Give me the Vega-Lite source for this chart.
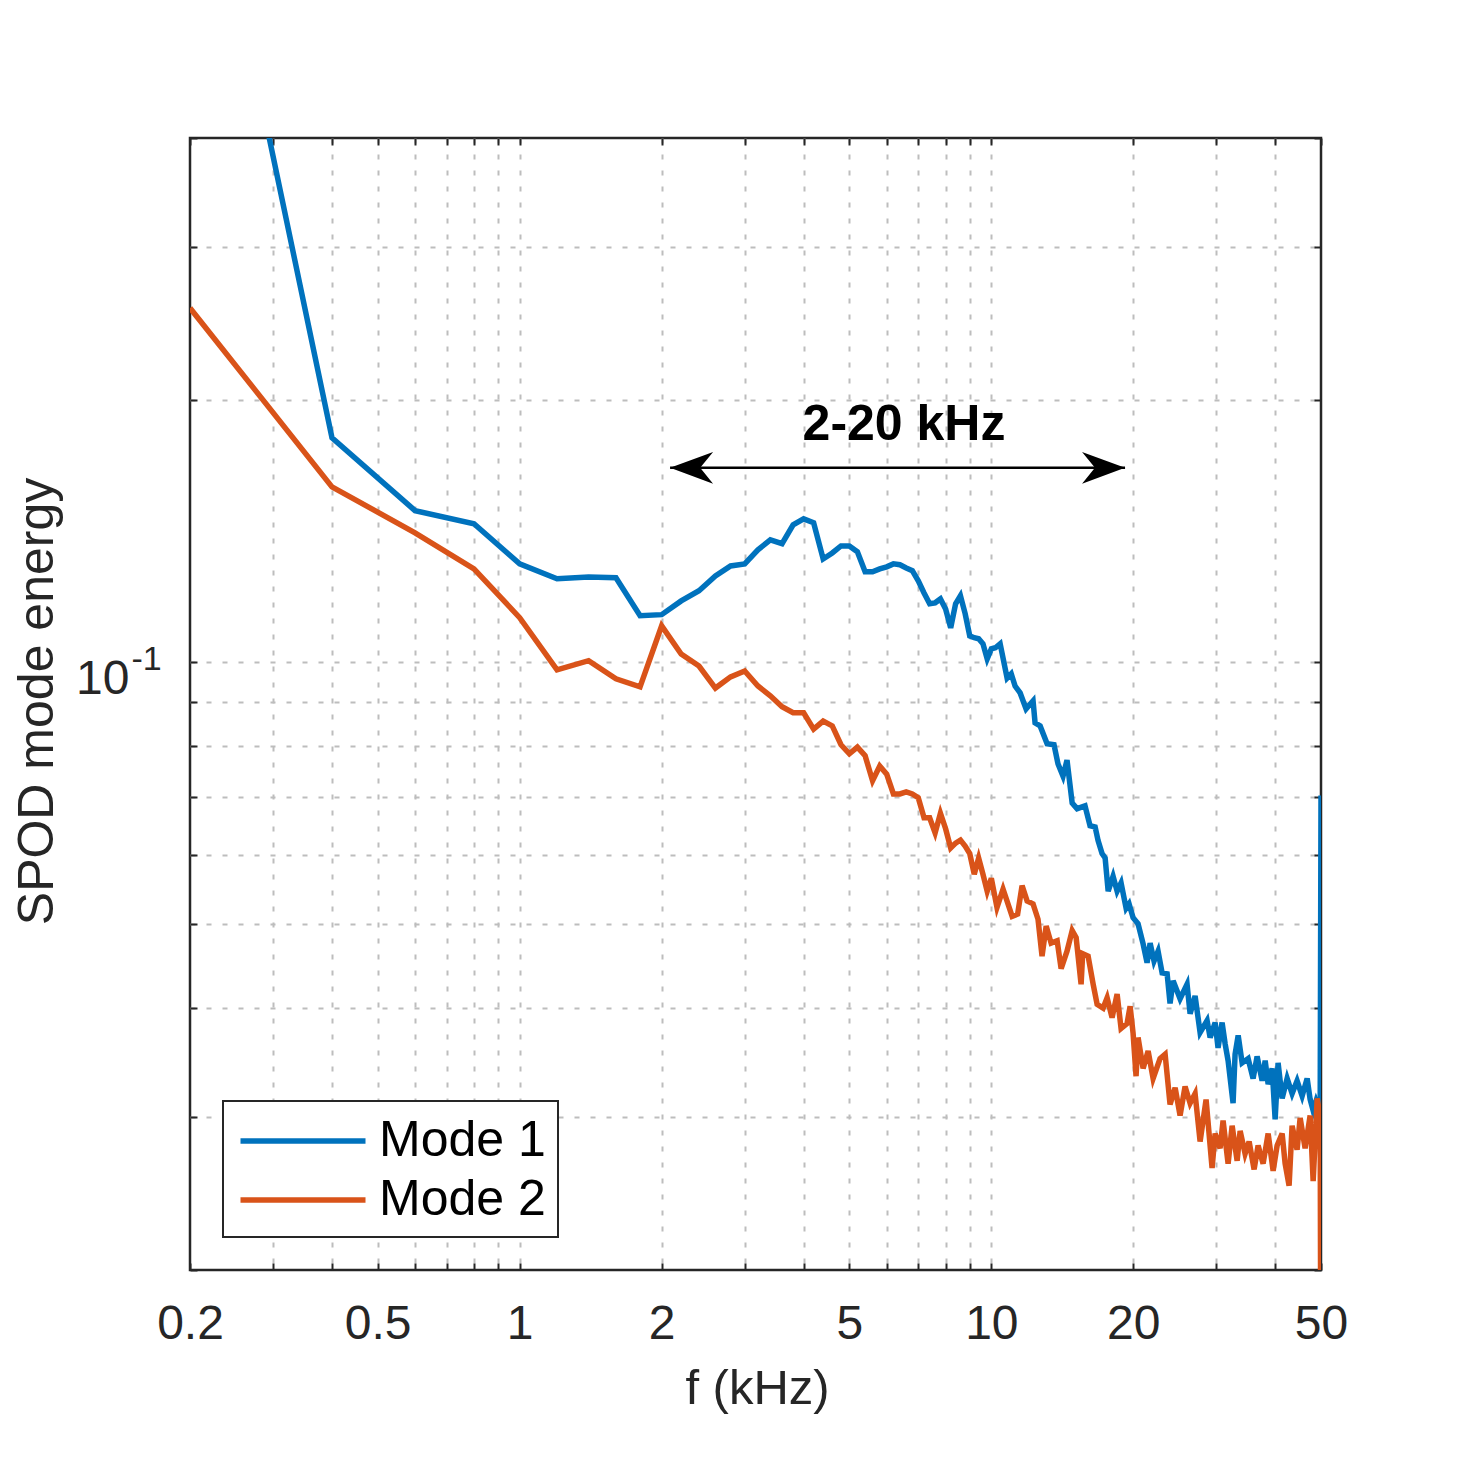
{
  "$schema": "https://vega.github.io/schema/vega-lite/v6.json",
  "autosize": {"type": "none"},
  "padding": {"left": 190, "top": 138, "right": 139, "bottom": 190},
  "width": 1131,
  "height": 1132,
  "background": "white",
  "config": {
    "view": {"stroke": "#262626", "strokeWidth": 2.5},
    "font": "Liberation Sans",
    "axis": {"labelFont": "Liberation Sans", "titleFont": "Liberation Sans", "tickColor": "#262626", "tickWidth": 2, "labelColor": "#262626", "titleColor": "#262626", "titleFontWeight": "normal"},
    "legend": {"strokeWidth": 2},
    "text": {"font": "Liberation Sans"}
  },
  "datasets": {
    "spectra": [
      {"f": 0.2, "v": 1.09, "mode": "Mode 1"},
      {"f": 0.4, "v": 0.1809, "mode": "Mode 1"},
      {"f": 0.6, "v": 0.1492, "mode": "Mode 1"},
      {"f": 0.8, "v": 0.1441, "mode": "Mode 1"},
      {"f": 1.0, "v": 0.1296, "mode": "Mode 1"},
      {"f": 1.2, "v": 0.1246, "mode": "Mode 1"},
      {"f": 1.4, "v": 0.1252, "mode": "Mode 1"},
      {"f": 1.6, "v": 0.1249, "mode": "Mode 1"},
      {"f": 1.8, "v": 0.1130, "mode": "Mode 1"},
      {"f": 2.0, "v": 0.1133, "mode": "Mode 1"},
      {"f": 2.2, "v": 0.1175, "mode": "Mode 1"},
      {"f": 2.4, "v": 0.1207, "mode": "Mode 1"},
      {"f": 2.6, "v": 0.1255, "mode": "Mode 1"},
      {"f": 2.8, "v": 0.1289, "mode": "Mode 1"},
      {"f": 3.0, "v": 0.1296, "mode": "Mode 1"},
      {"f": 3.2, "v": 0.1345, "mode": "Mode 1"},
      {"f": 3.4, "v": 0.1381, "mode": "Mode 1"},
      {"f": 3.6, "v": 0.1367, "mode": "Mode 1"},
      {"f": 3.8, "v": 0.1437, "mode": "Mode 1"},
      {"f": 4.0, "v": 0.1460, "mode": "Mode 1"},
      {"f": 4.2, "v": 0.1445, "mode": "Mode 1"},
      {"f": 4.4, "v": 0.1313, "mode": "Mode 1"},
      {"f": 4.6, "v": 0.1334, "mode": "Mode 1"},
      {"f": 4.8, "v": 0.1359, "mode": "Mode 1"},
      {"f": 5.0, "v": 0.1359, "mode": "Mode 1"},
      {"f": 5.2, "v": 0.1338, "mode": "Mode 1"},
      {"f": 5.4, "v": 0.1269, "mode": "Mode 1"},
      {"f": 5.6, "v": 0.1269, "mode": "Mode 1"},
      {"f": 5.8, "v": 0.1279, "mode": "Mode 1"},
      {"f": 6.0, "v": 0.1286, "mode": "Mode 1"},
      {"f": 6.2, "v": 0.1296, "mode": "Mode 1"},
      {"f": 6.4, "v": 0.1293, "mode": "Mode 1"},
      {"f": 6.6, "v": 0.1282, "mode": "Mode 1"},
      {"f": 6.8, "v": 0.1273, "mode": "Mode 1"},
      {"f": 7.0, "v": 0.1239, "mode": "Mode 1"},
      {"f": 7.2, "v": 0.1200, "mode": "Mode 1"},
      {"f": 7.4, "v": 0.1166, "mode": "Mode 1"},
      {"f": 7.6, "v": 0.1169, "mode": "Mode 1"},
      {"f": 7.8, "v": 0.1181, "mode": "Mode 1"},
      {"f": 8.0, "v": 0.1150, "mode": "Mode 1"},
      {"f": 8.2, "v": 0.1094, "mode": "Mode 1"},
      {"f": 8.4, "v": 0.1166, "mode": "Mode 1"},
      {"f": 8.6, "v": 0.1191, "mode": "Mode 1"},
      {"f": 8.8, "v": 0.1136, "mode": "Mode 1"},
      {"f": 9.0, "v": 0.1071, "mode": "Mode 1"},
      {"f": 9.2, "v": 0.1066, "mode": "Mode 1"},
      {"f": 9.4, "v": 0.1063, "mode": "Mode 1"},
      {"f": 9.6, "v": 0.1049, "mode": "Mode 1"},
      {"f": 9.8, "v": 0.1008, "mode": "Mode 1"},
      {"f": 10.0, "v": 0.1035, "mode": "Mode 1"},
      {"f": 10.2, "v": 0.1038, "mode": "Mode 1"},
      {"f": 10.44, "v": 0.1049, "mode": "Mode 1"},
      {"f": 10.8, "v": 0.0958, "mode": "Mode 1"},
      {"f": 11.02, "v": 0.0969, "mode": "Mode 1"},
      {"f": 11.23, "v": 0.0938, "mode": "Mode 1"},
      {"f": 11.51, "v": 0.0921, "mode": "Mode 1"},
      {"f": 11.85, "v": 0.0883, "mode": "Mode 1"},
      {"f": 12.26, "v": 0.0902, "mode": "Mode 1"},
      {"f": 12.38, "v": 0.0851, "mode": "Mode 1"},
      {"f": 12.69, "v": 0.0844, "mode": "Mode 1"},
      {"f": 13.13, "v": 0.0805, "mode": "Mode 1"},
      {"f": 13.58, "v": 0.0803, "mode": "Mode 1"},
      {"f": 13.85, "v": 0.0763, "mode": "Mode 1"},
      {"f": 14.19, "v": 0.0739, "mode": "Mode 1"},
      {"f": 14.47, "v": 0.0771, "mode": "Mode 1"},
      {"f": 14.84, "v": 0.0688, "mode": "Mode 1"},
      {"f": 15.2, "v": 0.0678, "mode": "Mode 1"},
      {"f": 15.8, "v": 0.0683, "mode": "Mode 1"},
      {"f": 16.19, "v": 0.0648, "mode": "Mode 1"},
      {"f": 16.6, "v": 0.0646, "mode": "Mode 1"},
      {"f": 16.84, "v": 0.0623, "mode": "Mode 1"},
      {"f": 17.17, "v": 0.0602, "mode": "Mode 1"},
      {"f": 17.43, "v": 0.0595, "mode": "Mode 1"},
      {"f": 17.69, "v": 0.0545, "mode": "Mode 1"},
      {"f": 18.12, "v": 0.0567, "mode": "Mode 1"},
      {"f": 18.48, "v": 0.0545, "mode": "Mode 1"},
      {"f": 18.84, "v": 0.0557, "mode": "Mode 1"},
      {"f": 19.31, "v": 0.0521, "mode": "Mode 1"},
      {"f": 19.59, "v": 0.0527, "mode": "Mode 1"},
      {"f": 19.98, "v": 0.0508, "mode": "Mode 1"},
      {"f": 20.47, "v": 0.0500, "mode": "Mode 1"},
      {"f": 20.98, "v": 0.0474, "mode": "Mode 1"},
      {"f": 21.39, "v": 0.0451, "mode": "Mode 1"},
      {"f": 21.71, "v": 0.0475, "mode": "Mode 1"},
      {"f": 22.13, "v": 0.0453, "mode": "Mode 1"},
      {"f": 22.57, "v": 0.0465, "mode": "Mode 1"},
      {"f": 23.02, "v": 0.0439, "mode": "Mode 1"},
      {"f": 23.59, "v": 0.0438, "mode": "Mode 1"},
      {"f": 23.93, "v": 0.0405, "mode": "Mode 1"},
      {"f": 24.29, "v": 0.0430, "mode": "Mode 1"},
      {"f": 25.13, "v": 0.0410, "mode": "Mode 1"},
      {"f": 26.0, "v": 0.0426, "mode": "Mode 1"},
      {"f": 26.39, "v": 0.0394, "mode": "Mode 1"},
      {"f": 27.04, "v": 0.0413, "mode": "Mode 1"},
      {"f": 27.71, "v": 0.0375, "mode": "Mode 1"},
      {"f": 28.67, "v": 0.0387, "mode": "Mode 1"},
      {"f": 29.1, "v": 0.0370, "mode": "Mode 1"},
      {"f": 29.82, "v": 0.0385, "mode": "Mode 1"},
      {"f": 30.25, "v": 0.0360, "mode": "Mode 1"},
      {"f": 30.85, "v": 0.0385, "mode": "Mode 1"},
      {"f": 31.31, "v": 0.0364, "mode": "Mode 1"},
      {"f": 31.77, "v": 0.0348, "mode": "Mode 1"},
      {"f": 32.55, "v": 0.0311, "mode": "Mode 1"},
      {"f": 32.87, "v": 0.0354, "mode": "Mode 1"},
      {"f": 33.37, "v": 0.0372, "mode": "Mode 1"},
      {"f": 34.02, "v": 0.0346, "mode": "Mode 1"},
      {"f": 35.03, "v": 0.0350, "mode": "Mode 1"},
      {"f": 35.89, "v": 0.0332, "mode": "Mode 1"},
      {"f": 36.6, "v": 0.0352, "mode": "Mode 1"},
      {"f": 37.51, "v": 0.0330, "mode": "Mode 1"},
      {"f": 38.07, "v": 0.0348, "mode": "Mode 1"},
      {"f": 38.63, "v": 0.0327, "mode": "Mode 1"},
      {"f": 39.39, "v": 0.0341, "mode": "Mode 1"},
      {"f": 39.97, "v": 0.0298, "mode": "Mode 1"},
      {"f": 40.55, "v": 0.0346, "mode": "Mode 1"},
      {"f": 41.36, "v": 0.0315, "mode": "Mode 1"},
      {"f": 42.38, "v": 0.0332, "mode": "Mode 1"},
      {"f": 43.42, "v": 0.0319, "mode": "Mode 1"},
      {"f": 44.49, "v": 0.0330, "mode": "Mode 1"},
      {"f": 45.6, "v": 0.0317, "mode": "Mode 1"},
      {"f": 46.73, "v": 0.0332, "mode": "Mode 1"},
      {"f": 47.42, "v": 0.0314, "mode": "Mode 1"},
      {"f": 48.12, "v": 0.0305, "mode": "Mode 1"},
      {"f": 48.83, "v": 0.0313, "mode": "Mode 1"},
      {"f": 49.8, "v": 0.0305, "mode": "Mode 1"},
      {"f": 50.0, "v": 0.0702, "mode": "Mode 1"},
      {"f": 0.2, "v": 0.2551, "mode": "Mode 2"},
      {"f": 0.4, "v": 0.1589, "mode": "Mode 2"},
      {"f": 0.6, "v": 0.1407, "mode": "Mode 2"},
      {"f": 0.8, "v": 0.1279, "mode": "Mode 2"},
      {"f": 1.0, "v": 0.1124, "mode": "Mode 2"},
      {"f": 1.2, "v": 0.0979, "mode": "Mode 2"},
      {"f": 1.4, "v": 0.1003, "mode": "Mode 2"},
      {"f": 1.6, "v": 0.0956, "mode": "Mode 2"},
      {"f": 1.8, "v": 0.0936, "mode": "Mode 2"},
      {"f": 2.0, "v": 0.1100, "mode": "Mode 2"},
      {"f": 2.2, "v": 0.1021, "mode": "Mode 2"},
      {"f": 2.4, "v": 0.0989, "mode": "Mode 2"},
      {"f": 2.6, "v": 0.0933, "mode": "Mode 2"},
      {"f": 2.8, "v": 0.0961, "mode": "Mode 2"},
      {"f": 3.0, "v": 0.0976, "mode": "Mode 2"},
      {"f": 3.2, "v": 0.0938, "mode": "Mode 2"},
      {"f": 3.4, "v": 0.0914, "mode": "Mode 2"},
      {"f": 3.6, "v": 0.0888, "mode": "Mode 2"},
      {"f": 3.8, "v": 0.0874, "mode": "Mode 2"},
      {"f": 4.0, "v": 0.0874, "mode": "Mode 2"},
      {"f": 4.2, "v": 0.0837, "mode": "Mode 2"},
      {"f": 4.4, "v": 0.0855, "mode": "Mode 2"},
      {"f": 4.6, "v": 0.0844, "mode": "Mode 2"},
      {"f": 4.8, "v": 0.0803, "mode": "Mode 2"},
      {"f": 5.0, "v": 0.0784, "mode": "Mode 2"},
      {"f": 5.2, "v": 0.0798, "mode": "Mode 2"},
      {"f": 5.4, "v": 0.0780, "mode": "Mode 2"},
      {"f": 5.6, "v": 0.0730, "mode": "Mode 2"},
      {"f": 5.8, "v": 0.0759, "mode": "Mode 2"},
      {"f": 6.0, "v": 0.0743, "mode": "Mode 2"},
      {"f": 6.2, "v": 0.0705, "mode": "Mode 2"},
      {"f": 6.4, "v": 0.0705, "mode": "Mode 2"},
      {"f": 6.6, "v": 0.0709, "mode": "Mode 2"},
      {"f": 6.8, "v": 0.0705, "mode": "Mode 2"},
      {"f": 7.0, "v": 0.0698, "mode": "Mode 2"},
      {"f": 7.2, "v": 0.0662, "mode": "Mode 2"},
      {"f": 7.4, "v": 0.0662, "mode": "Mode 2"},
      {"f": 7.6, "v": 0.0636, "mode": "Mode 2"},
      {"f": 7.8, "v": 0.0670, "mode": "Mode 2"},
      {"f": 8.0, "v": 0.0643, "mode": "Mode 2"},
      {"f": 8.2, "v": 0.0611, "mode": "Mode 2"},
      {"f": 8.4, "v": 0.0619, "mode": "Mode 2"},
      {"f": 8.6, "v": 0.0624, "mode": "Mode 2"},
      {"f": 8.8, "v": 0.0614, "mode": "Mode 2"},
      {"f": 9.0, "v": 0.0602, "mode": "Mode 2"},
      {"f": 9.2, "v": 0.0570, "mode": "Mode 2"},
      {"f": 9.4, "v": 0.0595, "mode": "Mode 2"},
      {"f": 9.6, "v": 0.0570, "mode": "Mode 2"},
      {"f": 9.8, "v": 0.0545, "mode": "Mode 2"},
      {"f": 10.0, "v": 0.0564, "mode": "Mode 2"},
      {"f": 10.28, "v": 0.0522, "mode": "Mode 2"},
      {"f": 10.59, "v": 0.0548, "mode": "Mode 2"},
      {"f": 11.07, "v": 0.0510, "mode": "Mode 2"},
      {"f": 11.37, "v": 0.0513, "mode": "Mode 2"},
      {"f": 11.62, "v": 0.0553, "mode": "Mode 2"},
      {"f": 11.91, "v": 0.0531, "mode": "Mode 2"},
      {"f": 12.26, "v": 0.0527, "mode": "Mode 2"},
      {"f": 12.56, "v": 0.0506, "mode": "Mode 2"},
      {"f": 12.81, "v": 0.0459, "mode": "Mode 2"},
      {"f": 13.07, "v": 0.0497, "mode": "Mode 2"},
      {"f": 13.39, "v": 0.0475, "mode": "Mode 2"},
      {"f": 13.79, "v": 0.0478, "mode": "Mode 2"},
      {"f": 14.06, "v": 0.0444, "mode": "Mode 2"},
      {"f": 14.47, "v": 0.0465, "mode": "Mode 2"},
      {"f": 14.84, "v": 0.0491, "mode": "Mode 2"},
      {"f": 15.13, "v": 0.0482, "mode": "Mode 2"},
      {"f": 15.5, "v": 0.0426, "mode": "Mode 2"},
      {"f": 15.62, "v": 0.0462, "mode": "Mode 2"},
      {"f": 16.04, "v": 0.0459, "mode": "Mode 2"},
      {"f": 16.44, "v": 0.0426, "mode": "Mode 2"},
      {"f": 16.76, "v": 0.0404, "mode": "Mode 2"},
      {"f": 17.26, "v": 0.0400, "mode": "Mode 2"},
      {"f": 17.6, "v": 0.0411, "mode": "Mode 2"},
      {"f": 18.03, "v": 0.0390, "mode": "Mode 2"},
      {"f": 18.48, "v": 0.0415, "mode": "Mode 2"},
      {"f": 18.84, "v": 0.0379, "mode": "Mode 2"},
      {"f": 19.4, "v": 0.0384, "mode": "Mode 2"},
      {"f": 19.69, "v": 0.0402, "mode": "Mode 2"},
      {"f": 19.98, "v": 0.0374, "mode": "Mode 2"},
      {"f": 20.27, "v": 0.0334, "mode": "Mode 2"},
      {"f": 20.47, "v": 0.0370, "mode": "Mode 2"},
      {"f": 20.98, "v": 0.0341, "mode": "Mode 2"},
      {"f": 21.5, "v": 0.0357, "mode": "Mode 2"},
      {"f": 22.03, "v": 0.0332, "mode": "Mode 2"},
      {"f": 22.79, "v": 0.0350, "mode": "Mode 2"},
      {"f": 23.36, "v": 0.0354, "mode": "Mode 2"},
      {"f": 23.93, "v": 0.0310, "mode": "Mode 2"},
      {"f": 24.53, "v": 0.0324, "mode": "Mode 2"},
      {"f": 25.13, "v": 0.0301, "mode": "Mode 2"},
      {"f": 25.75, "v": 0.0325, "mode": "Mode 2"},
      {"f": 26.39, "v": 0.0311, "mode": "Mode 2"},
      {"f": 27.04, "v": 0.0319, "mode": "Mode 2"},
      {"f": 27.71, "v": 0.0281, "mode": "Mode 2"},
      {"f": 28.53, "v": 0.0314, "mode": "Mode 2"},
      {"f": 29.38, "v": 0.0262, "mode": "Mode 2"},
      {"f": 29.82, "v": 0.0287, "mode": "Mode 2"},
      {"f": 30.55, "v": 0.0276, "mode": "Mode 2"},
      {"f": 31.0, "v": 0.0297, "mode": "Mode 2"},
      {"f": 31.77, "v": 0.0265, "mode": "Mode 2"},
      {"f": 32.4, "v": 0.0293, "mode": "Mode 2"},
      {"f": 33.2, "v": 0.0267, "mode": "Mode 2"},
      {"f": 33.69, "v": 0.0289, "mode": "Mode 2"},
      {"f": 34.52, "v": 0.0272, "mode": "Mode 2"},
      {"f": 35.2, "v": 0.0281, "mode": "Mode 2"},
      {"f": 36.07, "v": 0.0261, "mode": "Mode 2"},
      {"f": 36.78, "v": 0.0278, "mode": "Mode 2"},
      {"f": 37.69, "v": 0.0265, "mode": "Mode 2"},
      {"f": 38.63, "v": 0.0287, "mode": "Mode 2"},
      {"f": 39.58, "v": 0.0260, "mode": "Mode 2"},
      {"f": 40.36, "v": 0.0278, "mode": "Mode 2"},
      {"f": 41.36, "v": 0.0287, "mode": "Mode 2"},
      {"f": 41.97, "v": 0.0265, "mode": "Mode 2"},
      {"f": 42.79, "v": 0.0250, "mode": "Mode 2"},
      {"f": 43.42, "v": 0.0293, "mode": "Mode 2"},
      {"f": 44.49, "v": 0.0275, "mode": "Mode 2"},
      {"f": 45.16, "v": 0.0299, "mode": "Mode 2"},
      {"f": 46.27, "v": 0.0276, "mode": "Mode 2"},
      {"f": 47.42, "v": 0.0301, "mode": "Mode 2"},
      {"f": 48.12, "v": 0.0253, "mode": "Mode 2"},
      {"f": 49.08, "v": 0.0315, "mode": "Mode 2"},
      {"f": 49.8, "v": 0.0300, "mode": "Mode 2"},
      {"f": 50.0, "v": 0.012, "mode": "Mode 2"}
    ],
    "label": [{"f": 6.53, "v": 0.1799, "t": "2-20 kHz"}],
    "arrow": [{"f1": 2.084, "f2": 19.21, "v": 0.1671}],
    "heads": [{"f": 2.084, "v": 0.1671, "dir": "left"}, {"f": 19.21, "v": 0.1671, "dir": "right"}]
  },
  "resolve": {"axis": {"x": "independent", "y": "independent"}},
  "layer": [
    {
      "data": {"name": "spectra"},
      "mark": {"type": "line", "strokeWidth": 5.5, "clip": true},
      "encoding": {
        "x": {
          "field": "f", "type": "quantitative",
          "scale": {"type": "log", "domain": [0.2, 50], "nice": false},
          "axis": {
            "orient": "bottom",
            "values": [0.2, 0.3, 0.4, 0.5, 0.6, 0.7, 0.8, 0.9, 1, 2, 3, 4, 5, 6, 7, 8, 9, 10, 20, 30, 40, 50],
            "labelExpr": "indexof([0.2,0.5,1,2,5,10,20,50], datum.value) >= 0 ? '' + datum.value : ''",
            "title": "f (kHz)",
            "grid": true, "gridColor": "#bdbdbd", "gridDash": [5, 11], "gridWidth": 2,
            "gridOpacity": {"condition": {"test": "datum.value <= 0.2 || datum.value >= 50", "value": 0}, "value": 1},
            "domain": false,
            "tickSize": -7,
            "labelFontSize": 48, "labelBaseline": "alphabetic", "labelPadding": 75,
            "labelFlush": false, "labelOverlap": false, "labelBound": false,
            "titleFontSize": 49, "titleBaseline": "alphabetic", "titleX": 567, "titleY": 133,
            "encode": {"ticks": {"update": {"y2": {"signal": "indexof([0.2,0.5,1,2,5,10,20,50], datum.value) >= 0 ? -12 : -7"}}}}
          }
        },
        "y": {
          "field": "v", "type": "quantitative",
          "scale": {"type": "log", "domain": [0.02, 0.4], "nice": false},
          "axis": {
            "orient": "left",
            "values": [0.02, 0.03, 0.04, 0.05, 0.06, 0.07, 0.08, 0.09, 0.1, 0.2, 0.3, 0.4],
            "labelExpr": "datum.value == 0.1 ? '10' : ''",
            "title": "SPOD mode energy",
            "grid": true, "gridColor": "#bdbdbd", "gridDash": [5, 11], "gridWidth": 2,
            "gridOpacity": {"condition": {"test": "datum.value <= 0.02 || datum.value >= 0.4", "value": 0}, "value": 1},
            "domain": false,
            "tickSize": -7,
            "labelFontSize": 48, "labelAlign": "right", "labelBaseline": "alphabetic",
            "labelOffset": 32, "labelPadding": 68, "labelOverlap": false, "labelBound": false, "labelFlush": false,
            "titleFontSize": 50, "titleBaseline": "alphabetic", "titleX": -138, "titleY": 563, "titleAngle": 270,
            "encode": {"ticks": {"update": {"x2": {"signal": "datum.value == 0.1 ? 12 : 7"}}}}
          }
        },
        "color": {
          "field": "mode", "type": "nominal",
          "scale": {"domain": ["Mode 1", "Mode 2"], "range": ["#0072BD", "#D95319"]},
          "legend": {
            "title": null, "orient": "bottom-left", "offset": 33,
            "symbolType": "M-0.9,0L4.1,0", "symbolSize": 2500, "symbolStrokeWidth": 5.5,
            "labelFontSize": 50, "labelFont": "Liberation Sans", "labelColor": "black",
            "labelOffset": 88, "labelLimit": 500, "rowPadding": 6, "padding": 12,
            "strokeColor": "#262626", "fillColor": "white"
          }
        }
      }
    },
    {
      "data": {"name": "label"},
      "mark": {"type": "text", "fontSize": 50, "fontWeight": "bold", "align": "center", "baseline": "alphabetic", "color": "black", "font": "Liberation Sans"},
      "encoding": {
        "x": {
          "field": "f", "type": "quantitative",
          "scale": {"type": "log", "domain": [0.2, 50], "nice": false},
          "axis": {
            "orient": "top",
            "values": [0.2, 0.3, 0.4, 0.5, 0.6, 0.7, 0.8, 0.9, 1, 2, 3, 4, 5, 6, 7, 8, 9, 10, 20, 30, 40, 50],
            "labels": false, "title": null, "grid": false, "domain": false, "tickSize": -7,
            "encode": {"ticks": {"update": {"y2": {"signal": "indexof([0.2,0.5,1,2,5,10,20,50], datum.value) >= 0 ? 12 : 7"}}}}
          }
        },
        "y": {
          "field": "v", "type": "quantitative",
          "scale": {"type": "log", "domain": [0.02, 0.4], "nice": false},
          "axis": {
            "orient": "right",
            "values": [0.02, 0.03, 0.04, 0.05, 0.06, 0.07, 0.08, 0.09, 0.1, 0.2, 0.3, 0.4],
            "labels": false, "title": null, "grid": false, "domain": false, "tickSize": -7,
            "encode": {"ticks": {"update": {"x2": {"signal": "datum.value == 0.1 ? -12 : -7"}}}}
          }
        },
        "text": {"field": "t", "type": "nominal"}
      }
    },
    {
      "data": {"name": "arrow"},
      "mark": {"type": "rule", "strokeWidth": 2.5, "color": "black"},
      "encoding": {
        "x": {"field": "f1", "type": "quantitative", "scale": {"type": "log", "domain": [0.2, 50], "nice": false}, "axis": null},
        "x2": {"field": "f2"},
        "y": {
          "field": "v", "type": "quantitative",
          "scale": {"type": "log", "domain": [0.02, 0.4], "nice": false},
          "axis": {
            "orient": "left", "values": [0.1], "labelExpr": "'-1'",
            "ticks": false, "tickSize": 0, "grid": false, "domain": false, "title": null,
            "labelAlign": "left", "labelBaseline": "alphabetic", "labelOffset": 8, "labelPadding": 59,
            "labelFontSize": 34, "labelOverlap": false, "labelBound": false, "labelFlush": false
          }
        }
      }
    },
    {
      "data": {"name": "heads"},
      "mark": {"type": "point", "filled": true, "size": 1849, "color": "black", "opacity": 1, "strokeWidth": 0},
      "encoding": {
        "x": {"field": "f", "type": "quantitative", "scale": {"type": "log", "domain": [0.2, 50], "nice": false}, "axis": null},
        "y": {"field": "v", "type": "quantitative", "scale": {"type": "log", "domain": [0.02, 0.4], "nice": false}, "axis": null},
        "shape": {
          "field": "dir", "type": "nominal",
          "scale": {"domain": ["left", "right"], "range": ["M0,0L2,-0.74L1.4,0L2,0.74Z", "M0,0L-2,-0.74L-1.4,0L-2,0.74Z"]},
          "legend": null
        }
      }
    }
  ]
}
